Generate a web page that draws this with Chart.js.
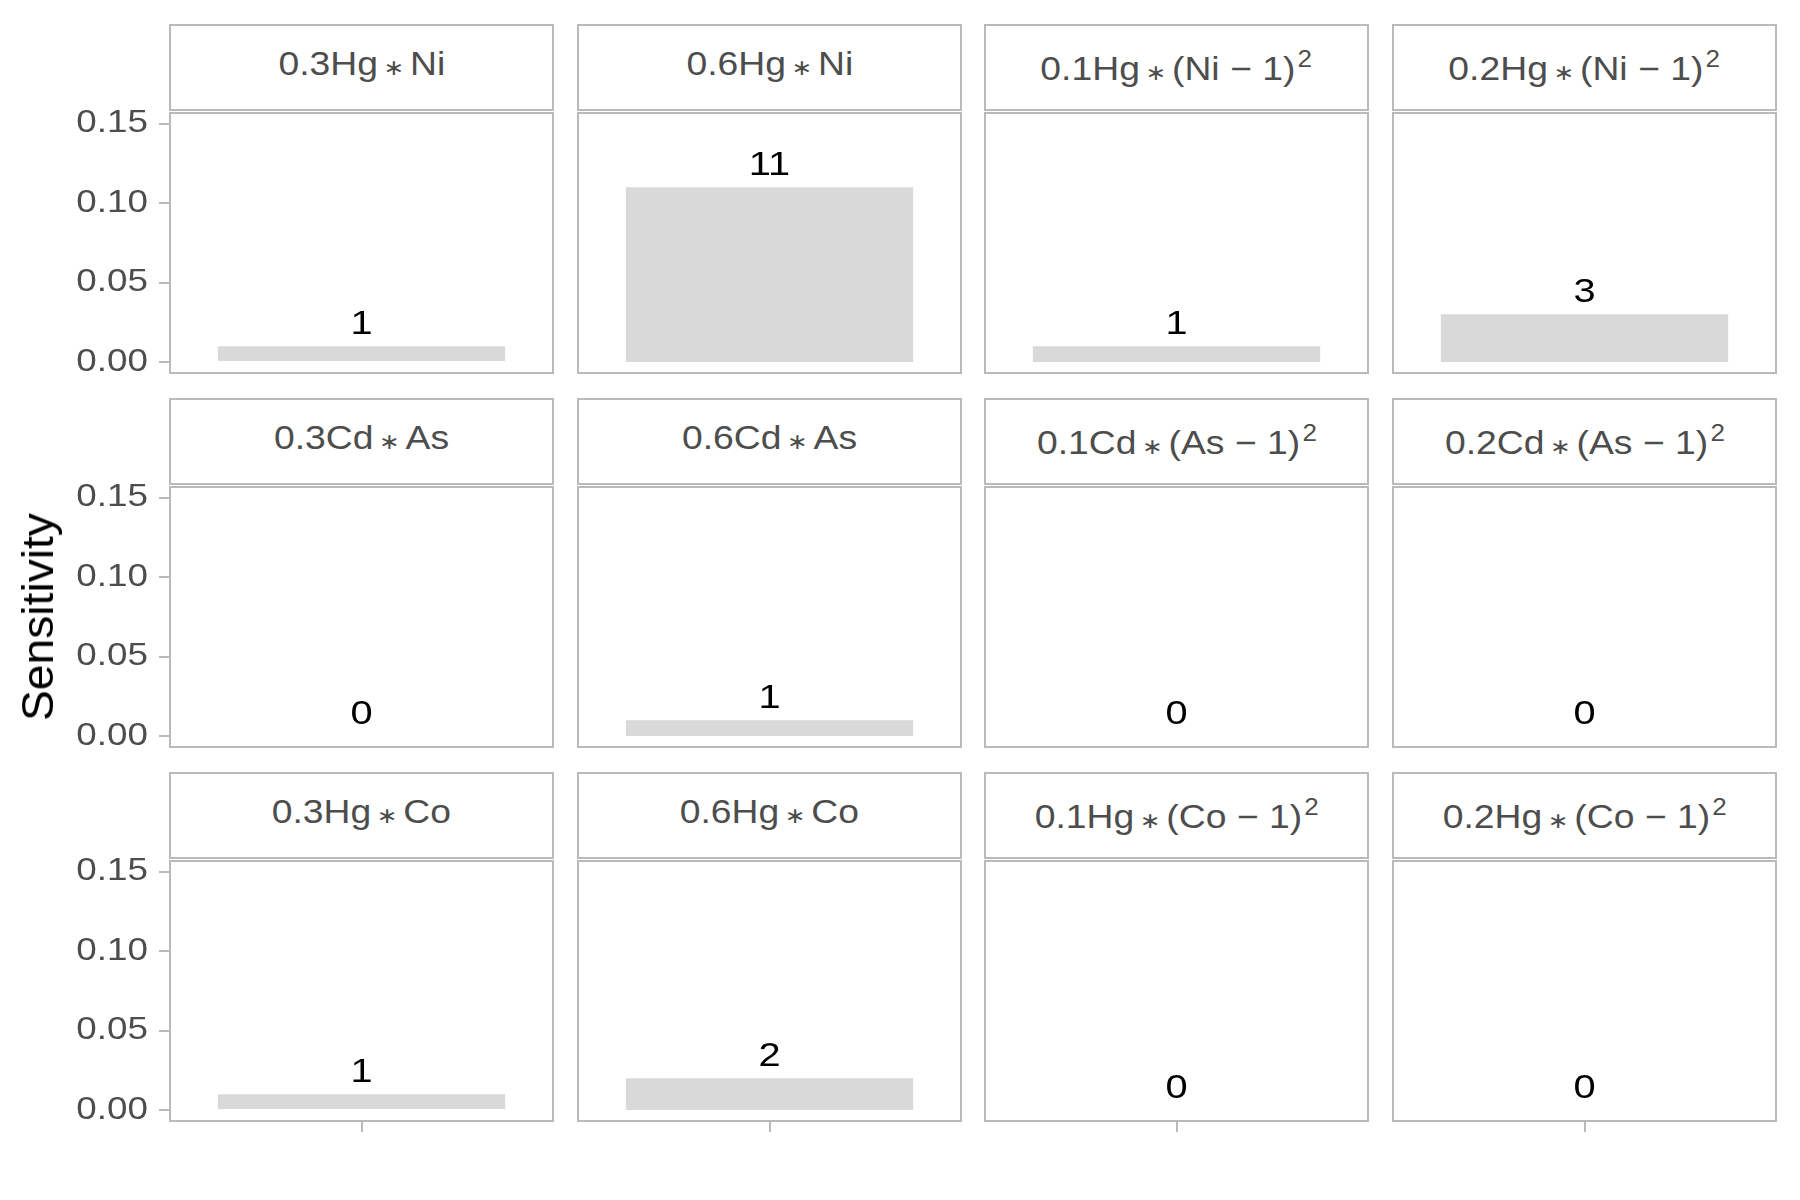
<!DOCTYPE html>
<html>
<head>
<meta charset="utf-8">
<script src="https://cdn.jsdelivr.net/npm/chart.js@4.4.1/dist/chart.umd.min.js"></script>
<style>
html,body{margin:0;padding:0;background:#fff;}
#root{position:relative;width:1800px;height:1200px;overflow:hidden;background:#fff;font-family:'Liberation Sans',Arial,sans-serif;}
.strip{position:absolute;box-sizing:border-box;border:2px solid #BABABA;background:#fff;}
.stxt{position:absolute;left:0;right:0;text-align:center;white-space:nowrap;font-size:33px;line-height:40px;color:#4D4D4D;}
.stxt .in{display:inline-block;transform:scaleX(1.13);transform-origin:50% 50%;}
.op{font-family:'DejaVu Sans',sans-serif;font-size:22px;line-height:0;margin:0 5px 0 5px;}
sup{font-size:23px;line-height:0;vertical-align:13px;margin-left:2px;}
canvas{position:absolute;}
#ytitle{position:absolute;width:300px;height:44px;line-height:44px;font-size:44px;color:#000;text-align:center;white-space:nowrap;transform-origin:150px 22px;}
</style>
</head>
<body>
<div id="root"></div>
<script>
// ---- data ----
const stripLabels = [
  "0.3Hg ∗ Ni", "0.6Hg ∗ Ni", "0.1Hg ∗ (Ni − 1)^2", "0.2Hg ∗ (Ni − 1)^2",
  "0.3Cd ∗ As", "0.6Cd ∗ As", "0.1Cd ∗ (As − 1)^2", "0.2Cd ∗ (As − 1)^2",
  "0.3Hg ∗ Co", "0.6Hg ∗ Co", "0.1Hg ∗ (Co − 1)^2", "0.2Hg ∗ (Co − 1)^2"
];
const sensitivity = [0.01, 0.11, 0.01, 0.03, 0, 0.01, 0, 0, 0.01, 0.02, 0, 0];
const counts = [1, 11, 1, 3, 0, 1, 0, 0, 1, 2, 0, 0];
const categories = [""];
const yTicks = [0, 0.05, 0.10, 0.15];
const yTitle = "Sensitivity";
const yMin = -0.0069, yMax = 0.1567;

// ---- layout ----
const colLeft = [170, 578, 985, 1393];
const rowTop = [113, 487, 861];
const panelW = 383, panelH = 260;
const lineCol = '#BABABA';
const FONT = "'Liberation Sans', Arial, sans-serif";
const root = document.getElementById('root');

function stretchCtx(ctx, s) {
  const orig = ctx.fillText;
  ctx.fillText = function (t, x, y, mw) {
    this.save();
    this.translate(x, y);
    this.scale(s, 1);
    if (mw === undefined || mw === null) orig.call(this, t, 0, 0);
    else orig.call(this, t, 0, 0, mw / s);
    this.restore();
  };
}

const panelBorder = {
  id: 'panelBorder',
  afterDraw(chart) {
    const a = chart.chartArea, ctx = chart.ctx;
    ctx.save();
    ctx.strokeStyle = lineCol;
    ctx.lineWidth = 2;
    ctx.strokeRect(a.left, a.top, a.right - a.left, a.bottom - a.top);
    ctx.restore();
  }
};

const countLabels = {
  id: 'countLabels',
  afterDatasetsDraw(chart, args, opts) {
    const ctx = chart.ctx;
    const meta = chart.getDatasetMeta(0);
    ctx.save();
    ctx.font = "34px " + FONT;
    ctx.fillStyle = '#000';
    ctx.textAlign = 'center';
    ctx.textBaseline = 'alphabetic';
    meta.data.forEach((el, j) => {
      ctx.fillText(String(opts.values[j]), el.x, el.y - 12);
    });
    ctx.restore();
  }
};

function stripHTML(s) {
  let h = s.replace(/∗/g, '<span class="op">∗</span>').replace(/\^2/g, '<sup>2</sup>');
  return h.replace(/ <span class="op">/g, '<span class="op">').replace(/<\/span> /g, '</span>');
}

for (let r = 0; r < 3; r++) {
  for (let c = 0; c < 4; c++) {
    const i = r * 4 + c;
    const L = colLeft[c], T = rowTop[r];
    // strip
    const st = document.createElement('div');
    st.className = 'strip';
    const sTop = T - 89;
    st.style.left = (L - 1) + 'px';
    st.style.top = sTop + 'px';
    st.style.width = (panelW + 2) + 'px';
    st.style.height = '87px';
    const tx = document.createElement('div');
    tx.className = 'stxt';
    const hasSup = stripLabels[i].indexOf('^') >= 0;
    const baseline = hasSup ? 56.5 : 51;
    tx.style.top = (baseline - 31.44 - 2) + 'px';
    const inner = document.createElement('span');
    inner.className = 'in';
    inner.innerHTML = stripHTML(stripLabels[i]);
    tx.appendChild(inner);
    st.appendChild(tx);
    root.appendChild(st);

    // chart
    const showY = c === 0, showX = r === 2;
    const yW = showY ? 170 : 0;
    const padL = showY ? 0 : 2;
    const padT = 20;
    const padB = showX ? 6 : 20;
    const xH = showX ? 14 : 0;
    const cw = yW + padL + panelW + 2;
    const ch = padT + panelH + xH + padB;
    const cv = document.createElement('canvas');
    cv.width = cw; cv.height = ch;
    cv.style.width = cw + 'px'; cv.style.height = ch + 'px';
    cv.style.left = (L - yW - padL) + 'px';
    cv.style.top = (T - padT) + 'px';
    root.appendChild(cv);
    const ctx = cv.getContext('2d');
    stretchCtx(ctx, 1.17);

    new Chart(ctx, {
      type: 'bar',
      data: {
        labels: categories,
        datasets: [{
          data: [sensitivity[i]],
          backgroundColor: '#D9D9D9',
          borderWidth: 0,
          barPercentage: 0.75,
          categoryPercentage: 1.0
        }]
      },
      options: {
        responsive: false,
        maintainAspectRatio: false,
        animation: false,
        devicePixelRatio: 1,
        events: [],
        layout: { padding: { left: padL, right: 2, top: padT, bottom: padB } },
        plugins: {
          legend: { display: false },
          tooltip: { enabled: false },
          title: { display: false },
          countLabels: { values: [counts[i]] }
        },
        scales: {
          x: {
            type: 'category',
            display: showX,
            offset: true,
            grid: { offset: false, drawOnChartArea: false, drawTicks: true, tickLength: 11, color: lineCol, lineWidth: 2 },
            border: { display: false },
            ticks: { display: false },
            afterFit(scale) { scale.height = xH; scale.paddingLeft = 0; scale.paddingRight = 0; }
          },
          y: {
            type: 'linear',
            display: showY,
            min: yMin,
            max: yMax,
            bounds: 'data',
            grid: { drawOnChartArea: false, drawTicks: true, tickLength: 11, color: lineCol, lineWidth: 2 },
            border: { display: false },
            ticks: {
              padding: 11,
              color: '#4D4D4D',
              font: { family: FONT, size: 31.5 },
              callback: (v) => Number(v).toFixed(2)
            },
            afterBuildTicks(scale) { scale.ticks = yTicks.map(v => ({ value: v })); },
            afterFit(scale) { scale.width = yW; scale.paddingTop = 0; scale.paddingBottom = 0; }
          }
        }
      },
      plugins: [panelBorder, countLabels]
    });
  }
}

// y-axis title
const yt = document.createElement('div');
yt.id = 'ytitle';
yt.textContent = yTitle;
yt.style.left = (38 - 150) + 'px';
yt.style.top = (617 - 22) + 'px';
yt.style.transform = 'rotate(-90deg) scaleX(1.05)';
root.appendChild(yt);
</script>
</body>
</html>
